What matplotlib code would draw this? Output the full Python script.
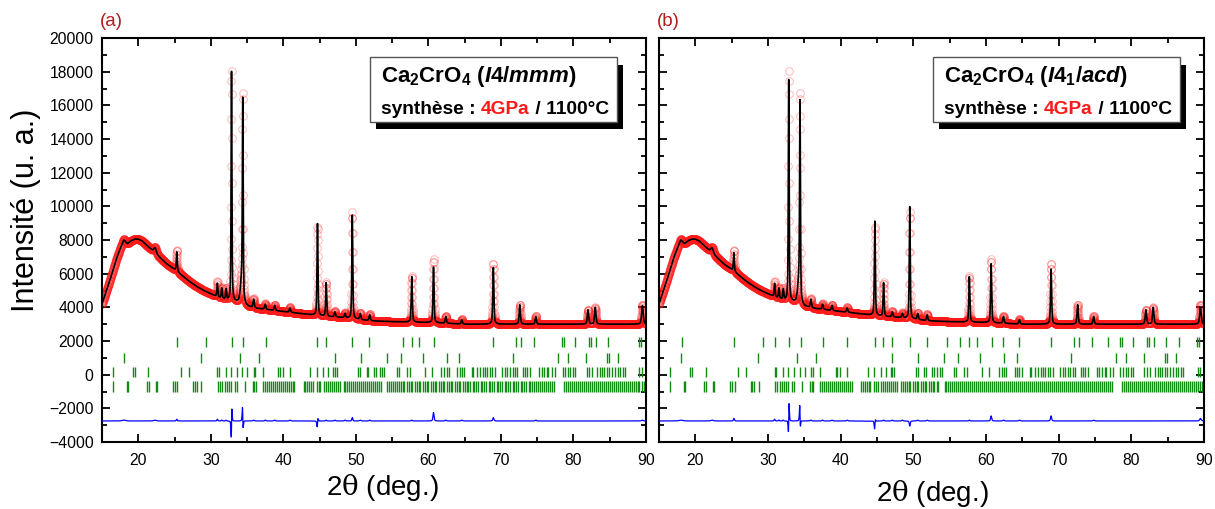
import numpy as np
import matplotlib
matplotlib.use("Agg")
import matplotlib.pyplot as plt
from matplotlib.patches import Rectangle

plt.rcParams['font.family'] = ['Liberation Sans', 'DejaVu Sans']
plt.rcParams['mathtext.fontset'] = 'custom'
plt.rcParams['mathtext.bf'] = 'Liberation Sans:bold'
plt.rcParams['mathtext.it'] = 'Liberation Sans:italic:bold'
plt.rcParams['mathtext.rm'] = 'Liberation Sans:bold'

# -------------------------------------------------------------------------
# Data
# -------------------------------------------------------------------------
# background (2theta, counts)
bg_x = [15, 16, 16.5, 17, 17.5, 18, 18.5, 19, 19.5, 20, 20.5, 21, 22, 23, 24, 25,
        26, 27, 28, 29, 30, 31, 32, 33, 34, 35, 36, 38, 40, 42, 44, 46, 48, 50,
        52, 55, 60, 65, 70, 75, 80, 85, 90]
bg_y = [4200, 5500, 6200, 6900, 7450, 7800, 7750, 7950, 8050, 8050, 7950, 7750,
        7350, 6950, 6550, 6250, 5900, 5550, 5250, 5000, 4800, 4600, 4450, 4350,
        4250, 4050, 3950, 3850, 3750, 3650, 3550, 3450, 3400, 3300, 3200, 3150,
        3100, 3000, 3000, 3000, 3000, 3000, 3000]

# Bragg peaks: position, width, observed height, calculated heights (a) and (b)
peak_pos = [18.0, 22.3, 25.3, 30.9, 31.5, 32.1, 32.85, 34.25, 34.4, 35.9, 37.5,
            38.8, 40.9, 44.7, 45.9, 47.1, 48.5, 49.5, 50.6, 51.9, 57.7, 60.7,
            62.4, 64.6, 68.95, 72.6, 74.8, 82.0, 83.0, 89.5]
obs_pos = [18.0, 22.3, 25.3, 30.9, 31.5, 32.1, 32.856, 34.25, 34.395, 35.9, 37.5,
           38.8, 40.9, 44.705, 45.9, 47.1, 48.5, 49.5, 50.6, 51.9, 57.7, 60.7,
           62.4, 64.6, 68.95, 72.6, 74.8, 82.0, 83.0, 89.5]
peak_fwhm = [0.6, 0.4, 0.15, 0.15, 0.15, 0.15, 0.13, 0.4, 0.13, 0.2, 0.2, 0.2,
             0.2, 0.15, 0.16, 0.2, 0.2, 0.15, 0.2, 0.2, 0.17, 0.17, 0.2, 0.2,
             0.18, 0.2, 0.2, 0.22, 0.22, 0.25]
obs_height = [250, 350, 1250, 900, 650, 650, 13700, 1300, 11750, 550, 350, 350,
              300, 5300, 2050, 350, 300, 6350, 400, 400, 2750, 3800, 450, 300,
              3600, 1150, 500, 850, 1000, 1150]
calc_a_height = [200, 300, 1150, 800, 600, 600, 13900, 1300, 11450, 500, 300,
                 300, 250, 5450, 2000, 300, 250, 6150, 350, 350, 2700, 3300, 400,
                 250, 3400, 1150, 450, 850, 1000, 1100]
calc_b_height = [200, 300, 1100, 800, 600, 600, 13400, 1300, 11300, 500, 300,
                 300, 250, 5600, 2000, 300, 250, 6650, 350, 350, 2700, 3500, 400,
                 250, 3300, 1150, 450, 850, 1000, 1000]

# reflection markers (four phases)
row1_a = [25.3, 29.34, 32.88, 34.49, 37.57, 44.69, 45.88, 49.51, 51.86, 56.46,
          57.7, 58.75, 60.77, 68.95, 72.04, 72.73, 74.6, 78.47, 78.74, 80.2,
          82.14, 82.42, 83.06, 84.8, 89.0, 89.27]
row1_b = [18.1, 25.3, 29.34, 30.9, 32.88, 34.49, 37.57, 40.9, 44.69, 45.88,
          47.1, 49.51, 51.86, 54.6, 56.46, 57.7, 58.75, 60.77, 62.4, 64.6,
          68.95, 72.04, 72.73, 74.6, 76.8, 78.47, 78.74, 80.2, 82.14, 82.42,
          83.06, 84.8, 86.6, 89.0, 89.27]
row2 = [18.03, 28.6, 34.03, 36.6, 47.12, 50.66, 54.25, 56.2, 59.2, 62.5, 64.27,
        71.7, 77.9, 79.3, 81.7, 84.6, 84.9, 86.2]
row3 = [16.56, 19.3, 19.6, 21.4, 25.9, 27.0, 30.9, 31.1, 32.1, 32.8, 33.57, 34.34,
        35.03, 35.96, 36.14, 37.2, 39.3, 39.5, 39.9, 40.9, 43.7, 44.6, 45.5, 46.2,
        46.9, 47.1, 47.4, 50.3, 50.6, 51.5, 51.7, 52.5, 52.8, 53.3, 53.6, 53.9,
        55.6, 55.9, 57.0, 57.4, 59.5, 60.45, 61.8, 62.15, 62.5, 62.8, 64.0, 64.3,
        64.6, 64.9, 66.0, 66.2, 66.75, 67.1, 67.5, 67.8, 68.1, 68.5, 68.8, 69.2,
        70.2, 70.6, 70.9, 71.25, 71.6, 71.95, 72.2, 73.0, 73.3, 73.6, 74.0, 75.3,
        75.6, 75.9, 76.3, 76.5, 77.0, 77.5, 78.5, 78.8, 79.2, 79.5, 79.9, 80.2,
        81.8, 82.2, 82.5, 83.2, 83.6, 83.9, 84.2, 84.6, 84.95, 85.3, 85.7, 86.2,
        86.4, 86.8, 87.1, 89.1, 89.4]
row4 = [16.5, 18.4, 18.6, 21.25, 21.5, 22.4, 22.6, 24.8, 25.1, 25.4, 27.6, 27.8,
        28.1, 28.7, 31.0, 31.3, 31.6, 31.9, 32.2, 32.5, 32.8, 33.3, 33.6, 34.7,
        35.8, 36.0, 36.2, 37.2, 37.45, 37.7, 37.95, 38.3, 38.55, 38.8, 39.1, 39.4,
        39.65, 39.9, 40.2, 40.5, 40.75, 41.0, 41.3, 41.5, 42.8, 43.05, 43.3, 43.6,
        43.85, 44.1, 44.6, 44.85, 45.1, 45.6, 45.85, 46.1, 46.4, 46.7, 46.95, 47.2,
        47.5, 47.8, 48.3, 48.55, 48.8, 49.1, 49.35, 49.6, 49.9, 50.2, 50.45, 50.7,
        51.0, 51.3, 51.55, 51.8, 52.1, 52.4, 52.65, 52.9, 53.2, 53.4, 54.3, 54.55,
        54.8, 55.1, 55.35, 55.6, 55.9, 56.2, 56.45, 56.7, 57.0, 57.3, 57.55, 57.8,
        58.1, 58.4, 58.65, 58.9, 59.2, 59.5, 59.75, 60.0, 60.3, 60.6, 60.85, 61.1,
        61.4, 61.7, 61.95, 62.2, 62.5, 62.8, 63.05, 63.3, 63.6, 63.9, 64.15, 64.4,
        64.7, 65.0, 65.25, 65.5, 65.8, 66.1, 66.35, 66.6, 66.9, 67.2, 67.45, 67.7,
        68.0, 68.3, 68.55, 68.8, 69.1, 69.4, 69.65, 69.9, 70.2, 70.5, 70.75, 71.0,
        71.3, 71.6, 71.85, 72.1, 72.4, 72.7, 72.95, 73.2, 73.5, 73.8, 74.05, 74.3,
        74.6, 74.9, 75.15, 75.4, 75.7, 76.0, 76.25, 76.5, 76.8, 77.1, 77.35, 78.7,
        78.95, 79.2, 79.5, 79.8, 80.05, 80.3, 80.6, 80.9, 81.15, 81.4, 81.7, 82.0,
        82.25, 82.5, 82.8, 83.1, 83.35, 83.6, 83.9, 84.2, 84.45, 84.7, 85.0, 85.3,
        85.55, 85.8, 86.1, 86.4, 86.65, 86.9, 87.2, 87.5, 87.75, 88.0, 88.3, 88.6,
        88.85, 89.1, 89.4, 89.7, 89.95]
row_levels = [1950, 1000, 150, -700]
diff_offset = -2750

y_ticks = [-4000, -2000, 0, 2000, 4000, 6000, 8000, 10000, 12000, 14000, 16000,
           18000, 20000]
x_ticks = [20, 30, 40, 50, 60, 70, 80, 90]
panel_labels = ['(a)', '(b)']
space_groups = [r'$\mathit{I4/mmm}$', r'$\mathit{I4_1/acd}$']

# -------------------------------------------------------------------------
# Build the profiles (pseudo-Voigt peaks on the read background)
# -------------------------------------------------------------------------
tt = np.arange(15, 90.0001, 0.02)


def profile(pos, heights):
    y = np.interp(tt, bg_x, bg_y)
    for p, h, w in zip(pos, heights, peak_fwhm):
        d = (tt - p) / (w / 2)
        y = y + h * (0.5 / (1 + d ** 2) + 0.5 * np.exp(-np.log(2) * d ** 2))
    return y


obs = profile(obs_pos, obs_height)
calcs = [profile(peak_pos, calc_a_height), profile(peak_pos, calc_b_height)]
rows = [[row1_a, row2, row3, row4], [row1_b, row2, row3, row4]]

# -------------------------------------------------------------------------
# Plot
# -------------------------------------------------------------------------
fig = plt.figure(figsize=(12.15, 5.09), dpi=100)
ax_pos = [[0.0840, 0.1316, 0.4477, 0.7937], [0.5424, 0.1316, 0.4486, 0.7937]]
box_x = [(0.4926, 0.9467), (0.5028, 0.956)]
xlab_pos = [(0.315, 0.043), (0.767, 0.031)]
lab_x = [0.0823, 0.5407]

for i in range(2):
    ax = fig.add_axes(ax_pos[i])
    calc = calcs[i]
    ax.plot(tt, obs, 'o', mfc='none', mec=(1, 0.1, 0.1, 0.3), ms=5.5, mew=0.7,
            zorder=2)
    ax.plot(tt, calc, color='black', lw=1.2, zorder=3)
    for row, lev in zip(rows[i], row_levels):
        ax.vlines(row, lev - 300, lev + 300, color='#138a13', lw=1.0, zorder=2)
    ax.plot(tt, obs - calc + diff_offset, color='#0000ff', lw=0.9, zorder=3)

    ax.set_xlim(15, 90)
    ax.set_ylim(-4000, 20000)
    ax.set_xticks(x_ticks)
    ax.set_xticks([25, 35, 45, 55, 65, 75, 85], minor=True)
    ax.set_yticks(y_ticks)
    ax.set_yticks(np.array(y_ticks[:-1]) + 1000, minor=True)
    ax.tick_params(which='both', direction='in', top=True, right=True, width=1.3,
                   labelsize=11.3)
    ax.tick_params(axis='x', pad=8)
    ax.tick_params(axis='y', pad=6)
    ax.tick_params(which='major', length=6)
    ax.tick_params(which='minor', length=3.5)
    if i == 1:
        ax.tick_params(labelleft=False)
    for s in ax.spines.values():
        s.set_linewidth(1.5)

    # legend box with shadow
    x0, x1 = box_x[i]
    ax.add_patch(Rectangle((x0 + 0.011, 0.775), x1 - x0, 0.158,
                           transform=ax.transAxes, facecolor='black',
                           edgecolor='none', zorder=5))
    ax.add_patch(Rectangle((x0, 0.792), x1 - x0, 0.161,
                           transform=ax.transAxes, facecolor='white',
                           edgecolor='#555555', lw=1.0, zorder=6))
    ax.text(x0 + 0.02, 0.89, r'$\mathbf{Ca_2CrO_4}$ (' + space_groups[i] + ')',
            transform=ax.transAxes, fontsize=16, fontweight='bold',
            va='baseline', zorder=7)
    t1 = ax.text(x0 + 0.02, 0.812, 'synthèse : ', transform=ax.transAxes,
                 fontsize=13.8, fontweight='bold', va='baseline', zorder=7)
    t2 = ax.annotate('4GPa', xy=(1, 0), xycoords=t1, va='bottom', fontsize=13.8,
                     fontweight='bold', color='#ff1a1a', zorder=7)
    ax.annotate(' / 1100°C', xy=(1, 0), xycoords=t2, va='bottom', fontsize=13.8,
                fontweight='bold', zorder=7)

    fig.text(xlab_pos[i][0], xlab_pos[i][1], r'2$\mathrm{\theta}$ (deg.)',
             fontsize=20, ha='center', va='center', math_fontfamily='dejavuserif')
    fig.text(lab_x[i], 0.957, panel_labels[i], fontsize=13.5, color='#b01e1e',
             ha='left', va='center')

fig.text(0.021, 0.587, 'Intensité (u. a.)', rotation=90, fontsize=22,
         ha='center', va='center')

fig.savefig('out.png', dpi=100)
